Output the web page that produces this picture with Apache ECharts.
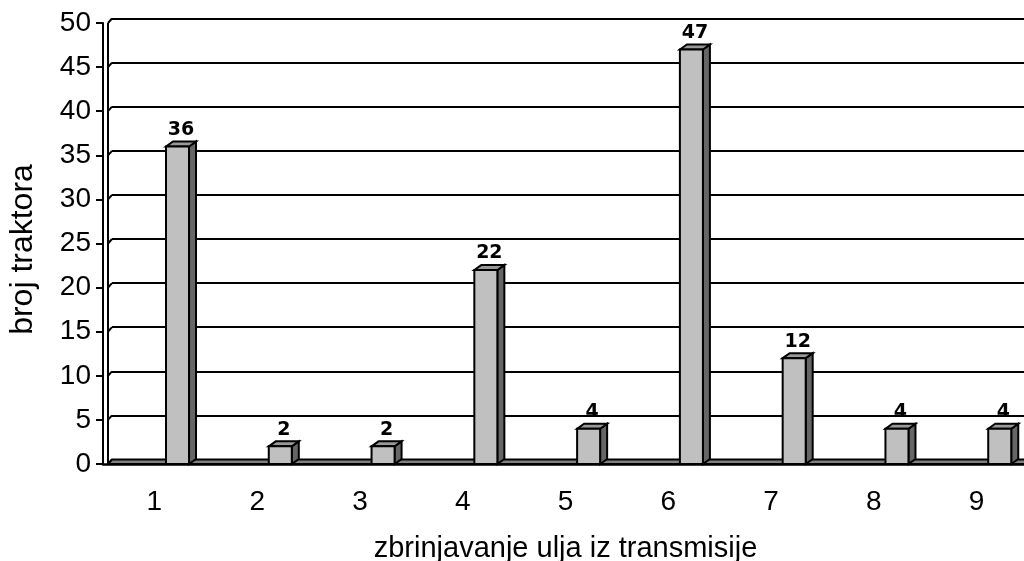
<!DOCTYPE html>
<html>
<head>
<meta charset="utf-8">
<script src="https://cdn.jsdelivr.net/npm/echarts@6/dist/echarts.min.js"></script>
<style>
  html, body { margin: 0; padding: 0; background: #fff; }
  #chart { width: 1024px; height: 561px; }
</style>
</head>
<body>
<div id="chart"></div>
<script>
// data
const categories = ["1", "2", "3", "4", "5", "6", "7", "8", "9"];
const tractorCounts = [36, 2, 2, 22, 4, 47, 12, 4, 4];
const yTicks = [0, 5, 10, 15, 20, 25, 30, 35, 40, 45, 50];

const FONT = "'Liberation Sans', Arial, sans-serif";
const DEPTH_X = 7;   // 3d depth of a bar
const DEPTH_Y = -5;
const WALL_X = 5;    // side wall front edge, from the axis
const BACK_X = 9;    // back wall, from the axis
const BACK_Y = -4.5;

const chart = echarts.init(document.getElementById("chart"));

// floor, side wall line and the small diagonals between front ticks and back gridlines
function renderWalls(params, api) {
  const cs = params.coordSys;
  const y = api.coord([0, api.value(1)])[1];
  const children = [{
    type: "line",
    shape: { x1: cs.x + WALL_X, y1: y, x2: cs.x + BACK_X, y2: y + BACK_Y },
    style: { stroke: "#000", lineWidth: 2 }
  }];
  if (params.dataIndex === 0) {
    const yTop = api.coord([0, 50])[1];
    children.push({
      type: "polygon",
      shape: { points: [
        [cs.x + WALL_X, y], [cs.x + cs.width + WALL_X, y],
        [cs.x + cs.width + BACK_X, y + BACK_Y], [cs.x + BACK_X, y + BACK_Y]
      ] },
      style: { fill: "#808080", stroke: "#000", lineWidth: 2 }
    });
    children.push({
      type: "line",
      shape: { x1: cs.x + WALL_X, y1: yTop, x2: cs.x + WALL_X, y2: y },
      style: { stroke: "#000", lineWidth: 2 }
    });
  }
  return { type: "group", children: children };
}

// 3d looking column: front, side, top + bold value label
function renderBar(params, api) {
  const idx = api.value(0);
  const val = api.value(1);
  const base = api.coord([idx, 0]);
  const top = api.coord([idx, val]);
  const cw = api.size([1, 0])[0];
  const w = cw * 0.224;
  const cx = base[0] + cw * 0.225;
  const x0 = cx - w / 2, x1 = cx + w / 2;
  const yt = top[1], yb = base[1];
  return {
    type: "group",
    children: [
      {
        type: "polygon",
        shape: { points: [[x1, yt], [x1 + DEPTH_X, yt + DEPTH_Y], [x1 + DEPTH_X, yb + DEPTH_Y], [x1, yb]] },
        style: { fill: "#666666", stroke: "#000", lineWidth: 2 }
      },
      {
        type: "polygon",
        shape: { points: [[x0, yt], [x0 + DEPTH_X, yt + DEPTH_Y], [x1 + DEPTH_X, yt + DEPTH_Y], [x1, yt]] },
        style: { fill: "#999999", stroke: "#000", lineWidth: 2 }
      },
      {
        type: "rect",
        shape: { x: x0, y: yt, width: w, height: yb - yt },
        style: { fill: "#c0c0c0", stroke: "#000", lineWidth: 2 }
      },
      {
        type: "text",
        style: {
          x: cx + DEPTH_X / 2, y: yt - 7,
          text: String(val),
          align: "center", verticalAlign: "bottom",
          font: "bold 19px 'DejaVu Sans', sans-serif",
          fill: "#000"
        }
      }
    ]
  };
}

chart.setOption({
  animation: false,
  backgroundColor: "#fff",
  grid: [
    { left: 103, top: 23, width: 925, bottom: 97, outerBoundsMode: "none" },      // front plane
    { left: 112, top: 18.5, width: 925, bottom: 101.5, outerBoundsMode: "none" }  // back wall
  ],
  xAxis: [
    {
      type: "category",
      gridIndex: 0,
      data: categories,
      boundaryGap: true,
      axisLine: { lineStyle: { color: "#000", width: 2.5 } },
      axisTick: { length: 15, interval: 0, lineStyle: { color: "#000", width: 2 } },
      axisLabel: { fontSize: 28, fontFamily: FONT, color: "#000", margin: 24, interval: 0 },
      name: "zbrinjavanje ulja iz transmisije",
      nameLocation: "middle",
      nameGap: 70,
      nameTextStyle: { fontSize: 29, fontFamily: FONT, color: "#000" }
    },
    { type: "category", gridIndex: 1, data: categories, show: false }
  ],
  yAxis: [
    {
      type: "value",
      gridIndex: 0,
      min: 0, max: 50, interval: 5,
      axisLine: { show: true, lineStyle: { color: "#000", width: 2 } },
      axisTick: { show: true, length: 7, lineStyle: { color: "#000", width: 2 } },
      axisLabel: { fontSize: 28, fontFamily: FONT, color: "#000", margin: 12 },
      splitLine: { show: false },
      name: "broj traktora",
      nameLocation: "middle",
      nameGap: 64,
      nameTextStyle: { fontSize: 32, fontFamily: FONT, color: "#000", padding: [0, 12, 0, 0] }
    },
    {
      type: "value",
      gridIndex: 1,
      min: 0, max: 50, interval: 5,
      axisLine: { show: false },
      axisTick: { show: false },
      axisLabel: { show: false },
      splitLine: { show: true, lineStyle: { color: "#000", width: 2 } }
    }
  ],
  series: [
    {
      type: "custom",
      xAxisIndex: 0, yAxisIndex: 0,
      data: yTicks.map(v => [0, v]),
      renderItem: renderWalls,
      silent: true
    },
    {
      type: "custom",
      xAxisIndex: 0, yAxisIndex: 0,
      data: tractorCounts.map((v, i) => [i, v]),
      renderItem: renderBar,
      silent: true
    }
  ]
});
</script>
</body>
</html>
